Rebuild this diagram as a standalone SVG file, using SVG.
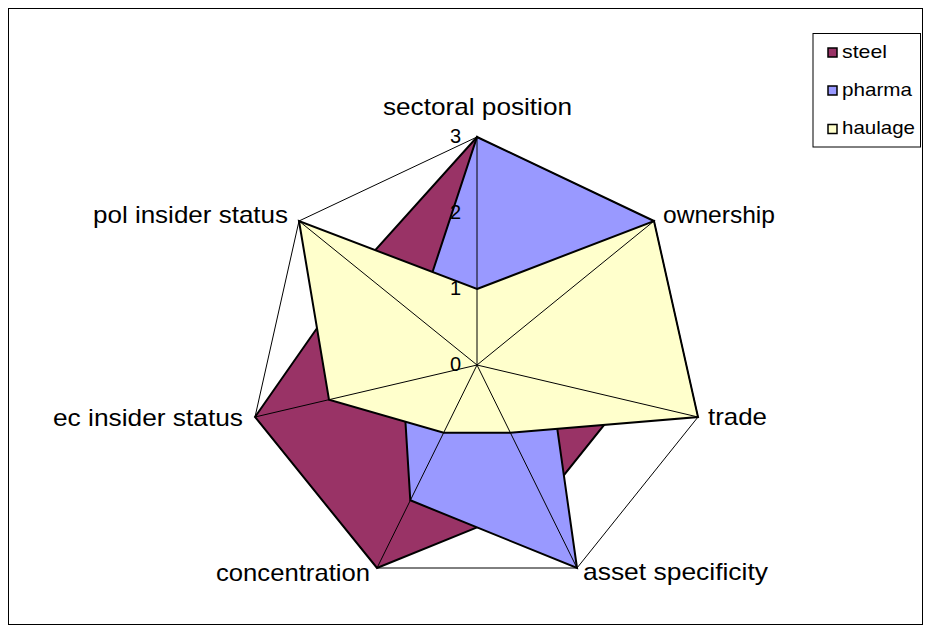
<svg xmlns="http://www.w3.org/2000/svg" width="927" height="632" viewBox="0 0 927 632">
<style>
  .lbl { font-family: "Liberation Sans", Arial, sans-serif; font-size: 24px; fill: #000; }
  .tick { font-family: "Liberation Sans", Arial, sans-serif; font-size: 20px; fill: #000; text-anchor: end; }
  .leg { font-family: "Liberation Sans", Arial, sans-serif; font-size: 19px; fill: #000; }
  .series { stroke: #000; stroke-width: 2; stroke-linejoin: miter; }
  .steel { fill: #993366; }
  .pharma { fill: #9999FF; }
  .haulage { fill: #FFFFCC; }
  .grid { fill: none; stroke: #000; stroke-width: 1; }
  .sw { stroke: #000; stroke-width: 1.5; }
</style>
<rect x="0" y="0" width="927" height="632" fill="#fff"/>
<rect id="frame" x="8.5" y="8.5" width="914" height="616" fill="none" stroke="#000" stroke-width="1"/>

<g id="series-steel">
  <polygon class="series steel" points="477,137 595,269 624.3,399.7 543.7,500.3 377,568 255,417 358.3,269"/>
</g>
<g id="series-pharma">
  <polygon class="series pharma" points="477,137 654,221 550.7,382.3 577,568 410.3,500.3 403,382.3 417.7,317"/>
</g>
<g id="series-haulage">
  <polygon class="series haulage" points="477,289 654,221 698,417 510.3,432.7 443.7,432.7 329,399.7 299,221"/>
</g>

<g id="connectors">
  <polygon class="grid" points="477,137 654,221 698,417 577,568 377,568 255,417 299,221"/>
  <line class="grid" x1="477" y1="365" x2="477" y2="137"/>
  <line class="grid" x1="477" y1="365" x2="654" y2="221"/>
  <line class="grid" x1="477" y1="365" x2="698" y2="417"/>
  <line class="grid" x1="477" y1="365" x2="577" y2="568"/>
  <line class="grid" x1="477" y1="365" x2="377" y2="568"/>
  <line class="grid" x1="477" y1="365" x2="255" y2="417"/>
  <line class="grid" x1="477" y1="365" x2="299" y2="221"/>
</g>

<g id="ticks">
  <text class="tick" x="461" y="143">3</text>
  <text class="tick" x="461" y="219">2</text>
  <text class="tick" x="461" y="295">1</text>
  <text class="tick" x="461" y="371">0</text>
</g>

<g id="axis-sectoral"><text class="lbl" x="383" y="115" textLength="189" lengthAdjust="spacingAndGlyphs">sectoral position</text></g>
<g id="axis-ownership"><text class="lbl" x="663" y="223" textLength="112" lengthAdjust="spacingAndGlyphs">ownership</text></g>
<g id="axis-trade"><text class="lbl" x="708" y="425" textLength="59" lengthAdjust="spacingAndGlyphs">trade</text></g>
<g id="axis-asset"><text class="lbl" x="583" y="580" textLength="185" lengthAdjust="spacingAndGlyphs">asset specificity</text></g>
<g id="axis-concentration"><text class="lbl" x="216" y="581" textLength="154" lengthAdjust="spacingAndGlyphs">concentration</text></g>
<g id="axis-ec"><text class="lbl" x="53" y="426" textLength="190" lengthAdjust="spacingAndGlyphs">ec insider status</text></g>
<g id="axis-pol"><text class="lbl" x="93" y="223" textLength="195" lengthAdjust="spacingAndGlyphs">pol insider status</text></g>

<g id="legend">
  <rect x="813" y="33.5" width="107.5" height="113.5" fill="#fff" stroke="#000" stroke-width="1"/>
  <rect class="sw steel" x="828" y="48" width="9" height="9"/>
  <text class="leg" x="842" y="58" textLength="45" lengthAdjust="spacingAndGlyphs">steel</text>
  <rect class="sw pharma" x="828" y="86" width="9" height="9"/>
  <text class="leg" x="842" y="96" textLength="70" lengthAdjust="spacingAndGlyphs">pharma</text>
  <rect class="sw haulage" x="828" y="124.5" width="9" height="9"/>
  <text class="leg" x="842" y="134" textLength="73" lengthAdjust="spacingAndGlyphs">haulage</text>
</g>
</svg>
